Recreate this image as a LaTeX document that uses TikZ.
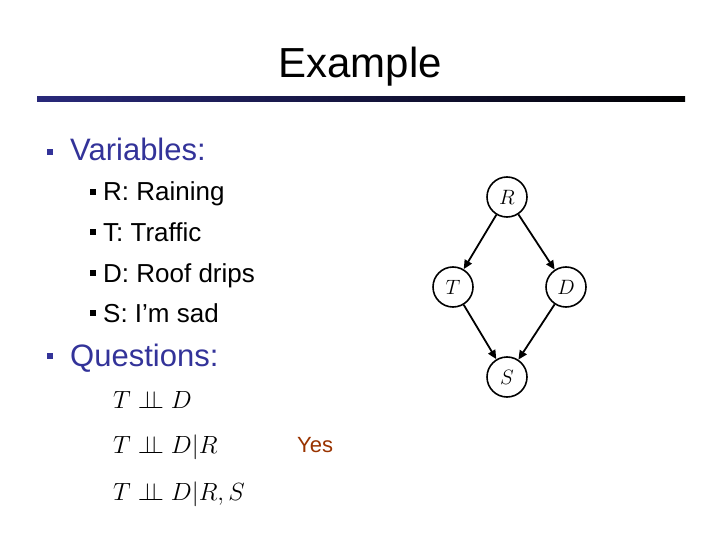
\documentclass[tikz,border=0pt]{standalone}
\usepackage{fontspec}
\setmainfont{Liberation Sans}
\usepackage{amsmath}
\usetikzlibrary{arrows.meta}
\newcommand{\indep}{\mathrel{\perp\!\!\!\perp}}
\definecolor{tblue}{HTML}{333399}
\definecolor{yescol}{HTML}{993300}
\begin{document}
\begin{tikzpicture}[x=1pt,y=-1pt,
  bn/.style={circle,draw,line width=1.6pt,minimum size=40pt,inner sep=0pt,font=\fontsize{20}{22}\selectfont},
  edge/.style={line width=1.8pt,-{Triangle[length=9pt,width=8pt]}},
  lvl/.style={anchor=base west,font=\fontsize{31}{34}\selectfont,text=tblue,inner sep=0pt},
  sub/.style={anchor=base west,font=\fontsize{26}{30}\selectfont,inner sep=0pt},
  bul/.style={fill=#1,minimum size=6.5pt,inner sep=0pt}]
\useasboundingbox (0,0) rectangle (720,540);
\node[anchor=base,font=\fontsize{42}{46}\selectfont,inner sep=0pt] (title) at (360,78) {Example};
\shade[left color=tblue!80!black,right color=black] (37,97) rectangle (685,102);
\node[bul=tblue] (b1) at (50,152) {};
\node[lvl] (v) at (70,161) {Variables:};
\foreach \y/\t [count=\i] in {201/R: Raining,241/T: Traffic,282/D: Roof drips,322/S: I’m sad}{
  \node[bul=black,minimum size=6pt] (sb\i) at (93,\y-9) {};
  \node[sub] (s\i) at (103,\y) {\t};
}
\node[bul=tblue] (b2) at (50,356) {};
\node[lvl] (q) at (70,366) {Questions:};
\node[sub] (m1) at (113,408) {$T\indep D$};
\node[sub] (m2) at (113,453) {$T\indep D|R$};
\node[sub] (m3) at (113,500) {$T\indep D|R,S$};
\node[anchor=base west,font=\fontsize{22}{26}\selectfont,text=yescol,inner sep=0pt] (yes) at (297,452) {Yes};
\node[bn] (R) at (507,197) {$R$};
\node[bn] (T) at (453,287) {$T$};
\node[bn] (D) at (566,287) {$D$};
\node[bn] (S) at (507,377) {$S$};
\draw[edge] (R) -- (T);
\draw[edge] (R) -- (D);
\draw[edge] (T) -- (S);
\draw[edge] (D) -- (S);
\end{tikzpicture}
\end{document}
